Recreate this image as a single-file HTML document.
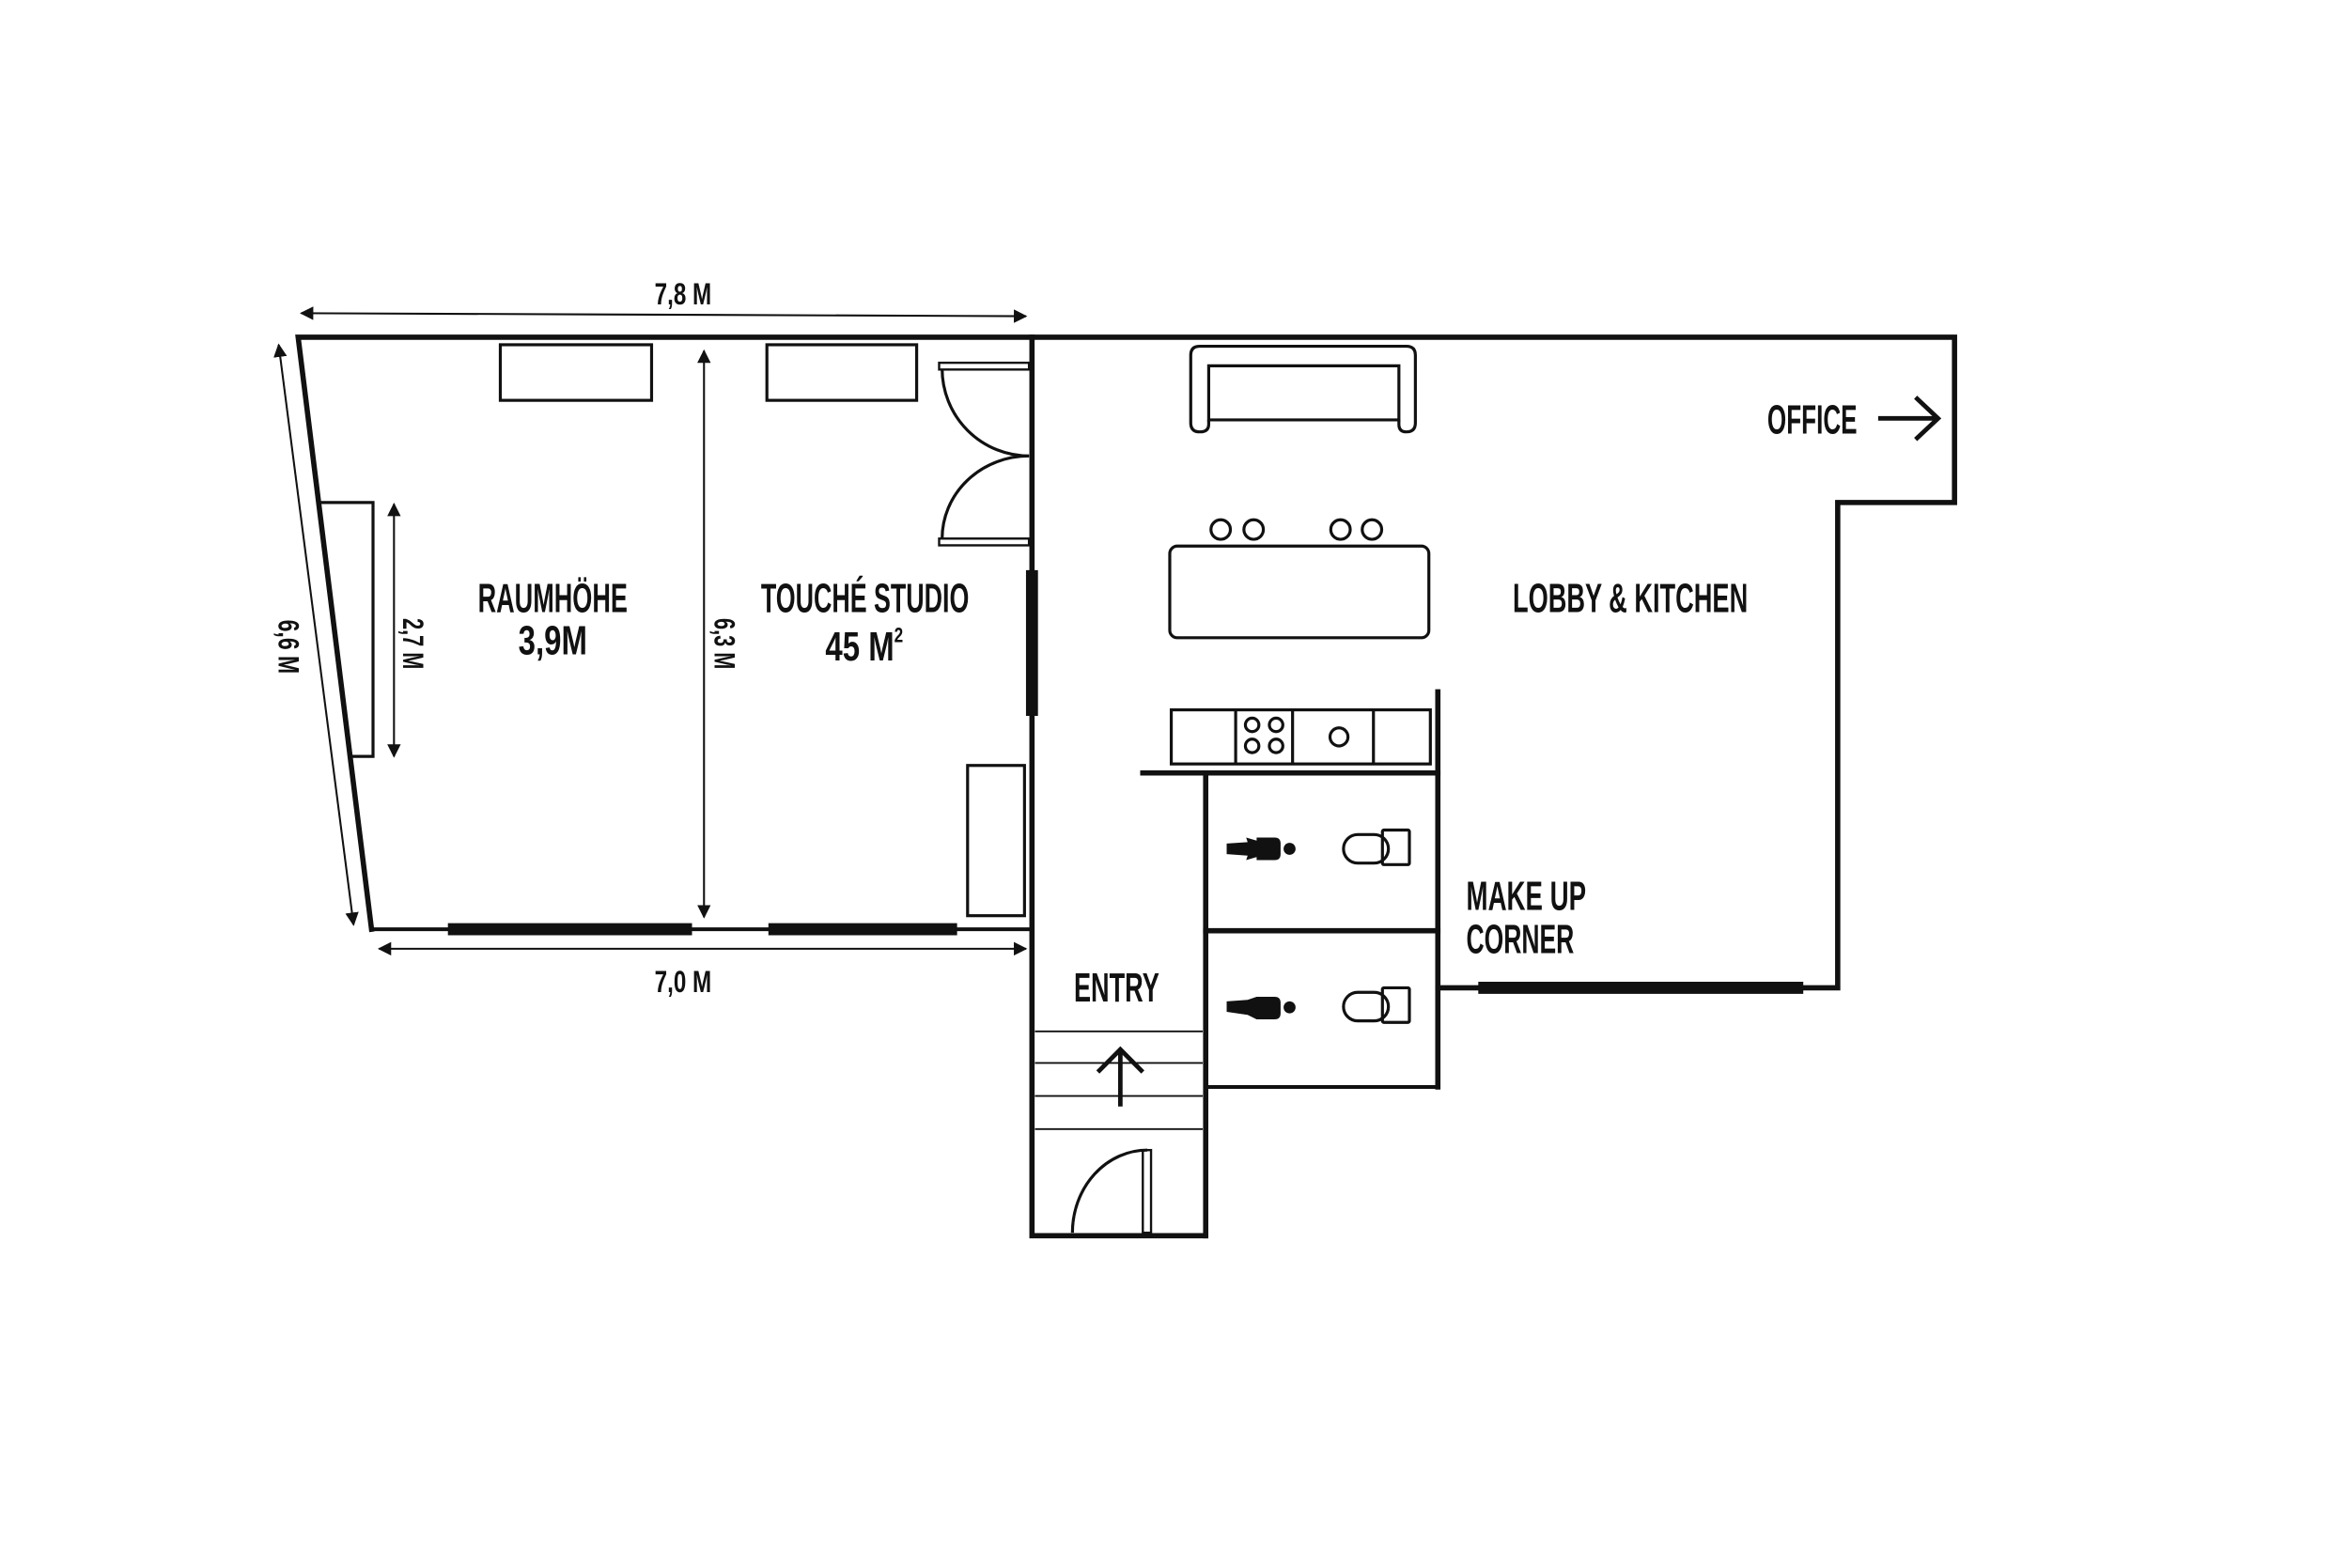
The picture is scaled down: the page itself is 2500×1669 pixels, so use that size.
<!DOCTYPE html>
<html><head><meta charset="utf-8"><style>
html,body{margin:0;padding:0;background:#fff;}
svg{display:block;}
text{font-family:"Liberation Sans Narrow","Liberation Sans",sans-serif;font-weight:bold;fill:#111;}
</style></head><body>
<svg width="2500" height="1669" viewBox="0 0 1560 1041.5" preserveAspectRatio="none" xmlns="http://www.w3.org/2000/svg">
<defs>
<marker id="ah" viewBox="0 0 10 10" refX="9" refY="5" markerWidth="9" markerHeight="9" markerUnits="userSpaceOnUse" orient="auto-start-reverse">
<path d="M0,0 L10,5 L0,10 z" fill="#111"/>
</marker>
</defs>
<g transform="matrix(0.9946 0 0 0.998 -0.92 -1.55)">
<g stroke="#111" fill="none" stroke-linecap="square">
<polyline points="806,824 690,824 690,226" stroke-width="3.5"/>
<polyline points="249,620 200,226 1306,226 1306,336 1228,336 1228,659 961,659" stroke-width="3.5"/>
<line x1="249" y1="620" x2="690" y2="620" stroke-width="2.5"/>
<line x1="806" y1="516" x2="806" y2="824" stroke-width="3.5"/>
<line x1="961" y1="462" x2="961" y2="725" stroke-width="3.5"/>
<line x1="764" y1="516" x2="961" y2="516" stroke-width="3.5"/>
<line x1="806" y1="621" x2="961" y2="621" stroke-width="3.5"/>
<line x1="806" y1="725" x2="961" y2="725" stroke-width="2.5"/>
<line x1="690" y1="381" x2="690" y2="478" stroke-width="8" stroke-linecap="butt"/>
<line x1="300" y1="620" x2="463" y2="620" stroke-width="8" stroke-linecap="butt"/>
<line x1="514" y1="620" x2="640" y2="620" stroke-width="8" stroke-linecap="butt"/>
<line x1="988" y1="659" x2="1205" y2="659" stroke-width="8" stroke-linecap="butt"/>
</g>
<g stroke="#111" fill="none" stroke-width="2">
<polygon points="214,336 250,336 250,505 235,505"/>
<rect x="335" y="231" width="101" height="37"/>
<rect x="513" y="231" width="100" height="37"/>
<rect x="647" y="511" width="38" height="100"/>
<rect x="628" y="243" width="60" height="4.5" stroke-width="1.5"/>
<rect x="628" y="360" width="60" height="4.5" stroke-width="1.5"/>
<path d="M630,247 A58,58 0 0 0 688,305"/>
<path d="M630,360 A58,55 0 0 1 688,305"/>
<rect x="764" y="767" width="5.5" height="55" stroke-width="1.5"/>
<path d="M717,822 A50,55 0 0 1 767,767"/>
<g stroke-width="1.2">
<line x1="692" y1="688" x2="804" y2="688"/>
<line x1="692" y1="709" x2="804" y2="709"/>
<line x1="692" y1="731" x2="804" y2="731"/>
<line x1="692" y1="753" x2="804" y2="753"/>
</g>
<line x1="749" y1="738" x2="749" y2="700" stroke-width="3"/>
<polyline points="734,715 749,700 764,715" stroke-width="3"/>
<path d="M808,281 L935,281 L935,245 L808,245 Z"/>
<path d="M808,281 L808,284 Q808,289 802,289 Q796,289 796,283 L796,238 Q796,232 802,232 L940,232 Q946,232 946,238 L946,283 Q946,289 940,289 Q935,289 935,284 L935,281"/>
<circle cx="816" cy="354" r="6.5"/>
<circle cx="838" cy="354" r="6.5"/>
<circle cx="896" cy="354" r="6.5"/>
<circle cx="917" cy="354" r="6.5"/>
<rect x="782" y="365" width="173" height="61" rx="5"/>
<rect x="783" y="474" width="173" height="36"/>
<line x1="826" y1="474" x2="826" y2="510"/>
<line x1="864" y1="474" x2="864" y2="510"/>
<line x1="918" y1="474" x2="918" y2="510"/>
<circle cx="837" cy="484" r="4.5"/>
<circle cx="853" cy="484" r="4.5"/>
<circle cx="837" cy="498" r="4.5"/>
<circle cx="853" cy="498" r="4.5"/>
<circle cx="895" cy="492" r="6"/>
<rect x="898" y="557" width="30" height="19" rx="9.5"/>
<rect x="924" y="554" width="18" height="23" rx="1"/>
<rect x="898" y="662" width="30" height="19" rx="9.5"/>
<rect x="924" y="659" width="18" height="23" rx="1"/>
<line x1="1255" y1="280" x2="1294" y2="280" stroke-width="3"/>
<polyline points="1280,266 1295,280 1280,294" stroke-width="3"/>
</g>
<g fill="#111">
<path d="M820,563 L834,562 L833,559 L840,561 L840,559 L852,559 Q856,559 856,563 L856,570 Q856,574 852,574 L840,574 L840,572 L833,574 L834,571 L820,570 Z"/>
<circle cx="862" cy="566.5" r="4"/>
<path d="M820,668 L834,667 L840,665 L852,665 Q856,665 856,669 L856,676 Q856,680 852,680 L840,680 L834,677 L820,675 Z"/>
<circle cx="862" cy="672" r="4"/>
</g>
<g stroke="#111" stroke-width="1.3" fill="none">
<line x1="202" y1="210" x2="686" y2="212" marker-start="url(#ah)" marker-end="url(#ah)"/>
<line x1="254" y1="633" x2="686" y2="633" marker-start="url(#ah)" marker-end="url(#ah)"/>
<line x1="187" y1="231" x2="237" y2="617" marker-start="url(#ah)" marker-end="url(#ah)"/>
<line x1="264" y1="337" x2="264" y2="505" marker-start="url(#ah)" marker-end="url(#ah)"/>
<line x1="471" y1="235" x2="471" y2="612" marker-start="url(#ah)" marker-end="url(#ah)"/>
</g>
<text x="438" y="204" font-size="20" textLength="38" lengthAdjust="spacingAndGlyphs">7,8 M</text>
<text x="438" y="662" font-size="20" textLength="38" lengthAdjust="spacingAndGlyphs">7,0 M</text>
<text transform="translate(187,432) rotate(90)" x="-18" y="0" font-size="20" textLength="36" lengthAdjust="spacingAndGlyphs">6,6 M</text>
<text transform="translate(270,430) rotate(90)" x="-17" y="0" font-size="20" textLength="34" lengthAdjust="spacingAndGlyphs">2,7 M</text>
<text transform="translate(478,430) rotate(90)" x="-17" y="0" font-size="20" textLength="34" lengthAdjust="spacingAndGlyphs">6,3 M</text>
<text x="320" y="409" font-size="27" textLength="100" lengthAdjust="spacingAndGlyphs">RAUMHÖHE</text>
<text x="347" y="437" font-size="27" textLength="46" lengthAdjust="spacingAndGlyphs">3,9M</text>
<text x="509" y="409" font-size="27" textLength="139" lengthAdjust="spacingAndGlyphs">TOUCHÉ STUDIO</text>
<text x="552" y="441" font-size="27" textLength="46" lengthAdjust="spacingAndGlyphs">45 M</text>
<text x="598" y="429" font-size="14" textLength="6" lengthAdjust="spacingAndGlyphs">2</text>
<text x="1011" y="409" font-size="27" textLength="157" lengthAdjust="spacingAndGlyphs">LOBBY &amp; KITCHEN</text>
<text x="1181" y="290" font-size="27" textLength="60" lengthAdjust="spacingAndGlyphs">OFFICE</text>
<text x="718" y="668" font-size="27" textLength="57" lengthAdjust="spacingAndGlyphs">ENTRY</text>
<text x="980" y="607" font-size="27" textLength="80" lengthAdjust="spacingAndGlyphs">MAKE UP</text>
<text x="980" y="636" font-size="27" textLength="72" lengthAdjust="spacingAndGlyphs">CORNER</text>
</g>
</svg>
</body></html>
